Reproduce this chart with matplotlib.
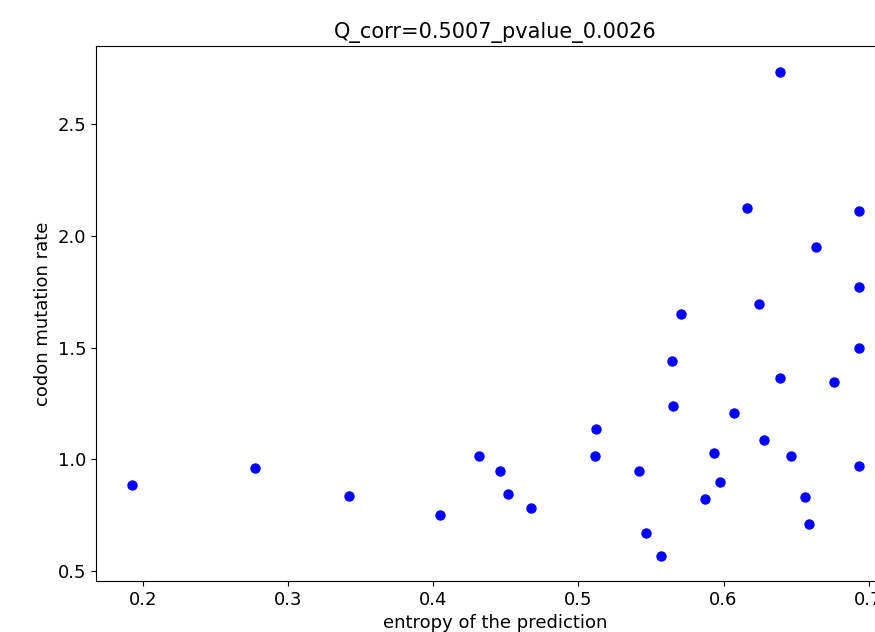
import numpy as np
import matplotlib
matplotlib.use('Agg')
import matplotlib.pyplot as plt

# entropy of the prediction vs codon mutation rate
entropy = [0.1924, 0.2771, 0.3420, 0.4043, 0.4314, 0.4456, 0.4511, 0.4676,
           0.5120, 0.5112, 0.5416, 0.5464, 0.5572, 0.5645, 0.5652, 0.5709,
           0.5875, 0.5934, 0.5973, 0.6072, 0.6159, 0.6244, 0.6276, 0.6390,
           0.6390, 0.6464, 0.6563, 0.6591, 0.6637, 0.6762, 0.6931, 0.6931,
           0.6931, 0.6931]
mut_rate = [0.884, 0.961, 0.837, 0.749, 1.015, 0.948, 0.843, 0.782,
            1.134, 1.013, 0.946, 0.672, 0.567, 1.442, 1.239, 1.650,
            0.821, 1.030, 0.898, 1.206, 2.124, 1.694, 1.085, 1.364,
            2.735, 1.013, 0.831, 0.710, 1.953, 1.348, 2.113, 1.771,
            1.497, 0.970]

fig = plt.figure(figsize=(8.75, 6.32), dpi=100)
# original image is cropped on the right, so the axes run past the figure edge
ax = fig.add_axes([0.1097, 0.0807, 0.913, 0.846])
ax.scatter(entropy, mut_rate, color='blue', s=42)
ax.set_xlim(0.1674, 0.7181)
ax.set_ylim(0.455, 2.85)
ax.set_xticks([0.2, 0.3, 0.4, 0.5, 0.6, 0.7])
ax.set_xticklabels(['0.2', '0.3', '0.4', '0.5', '0.6', '0.7'])
ax.set_yticks([0.5, 1.0, 1.5, 2.0, 2.5])
ax.tick_params(labelsize=13)
ax.set_xlabel('entropy of the prediction', fontsize=13)
ax.set_ylabel('codon mutation rate', fontsize=13)
ax.set_title('Q_corr=0.5007_pvalue_0.0026', fontsize=15)

plt.savefig('out.png', dpi=100)
